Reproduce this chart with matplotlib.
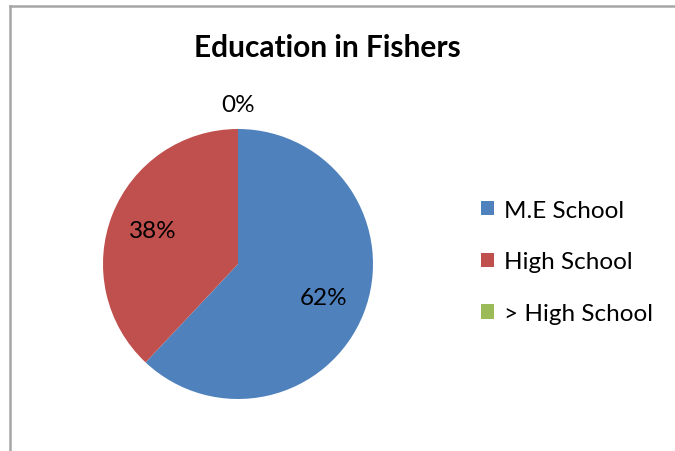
import matplotlib.pyplot as plt
from matplotlib.lines import Line2D
from matplotlib.patches import Patch
import numpy as np

plt.rcParams['font.family'] = ['Lato', 'DejaVu Sans']

# Data
categories = ["M.E School", "High School", "> High School"]
shares = [62, 38, 0]
colors = ["#4F81BD", "#C0504D", "#9BBB59"]

fig = plt.figure(figsize=(6.75, 4.52), dpi=100)

# Pie axes: circle centred near (238, 265) px with radius about 135 px
ax = fig.add_axes([103 / 675, 52 / 452, 270 / 675, 270 / 452])
wedges, texts, autotexts = ax.pie(shares, colors=colors, startangle=90, counterclock=False,
                                  autopct="%1.0f%%", pctdistance=0.68, radius=1.0,
                                  textprops={"fontsize": 17.5, "color": "#000000"})
ax.set_xlim(-1, 1)
ax.set_ylim(-1, 1)
ax.set_aspect("equal")

# The empty slice gets its label outside the pie
for w, t, v in zip(wedges, autotexts, shares):
    if v == 0:
        ang = np.deg2rad((w.theta1 + w.theta2) / 2)
        t.set_position((1.18 * np.cos(ang), 1.18 * np.sin(ang)))

# Title
fig.text(327 / 675, 1 - 48 / 452, "Education in Fishers", ha="center", va="center",
         fontsize=21.5, fontweight="bold")

# Legend
handles = [Patch(facecolor=c, edgecolor="none") for c in colors]
fig.legend(handles, categories, loc="center left", bbox_to_anchor=(481 / 675, 1 - 263 / 452),
           frameon=False, fontsize=17.5, handlelength=0.55, handleheight=0.55,
           handletextpad=0.4, labelspacing=1.27, borderpad=0, borderaxespad=0)

# Chart border (top and left visible)
fig.add_artist(Line2D([10 / 675, 1], [1 - 7 / 452, 1 - 7 / 452], color="#A6A6A6", lw=1.8))
fig.add_artist(Line2D([10 / 675, 10 / 675], [0, 1 - 7 / 452], color="#A6A6A6", lw=1.8))

fig.savefig("out.png", dpi=100)
